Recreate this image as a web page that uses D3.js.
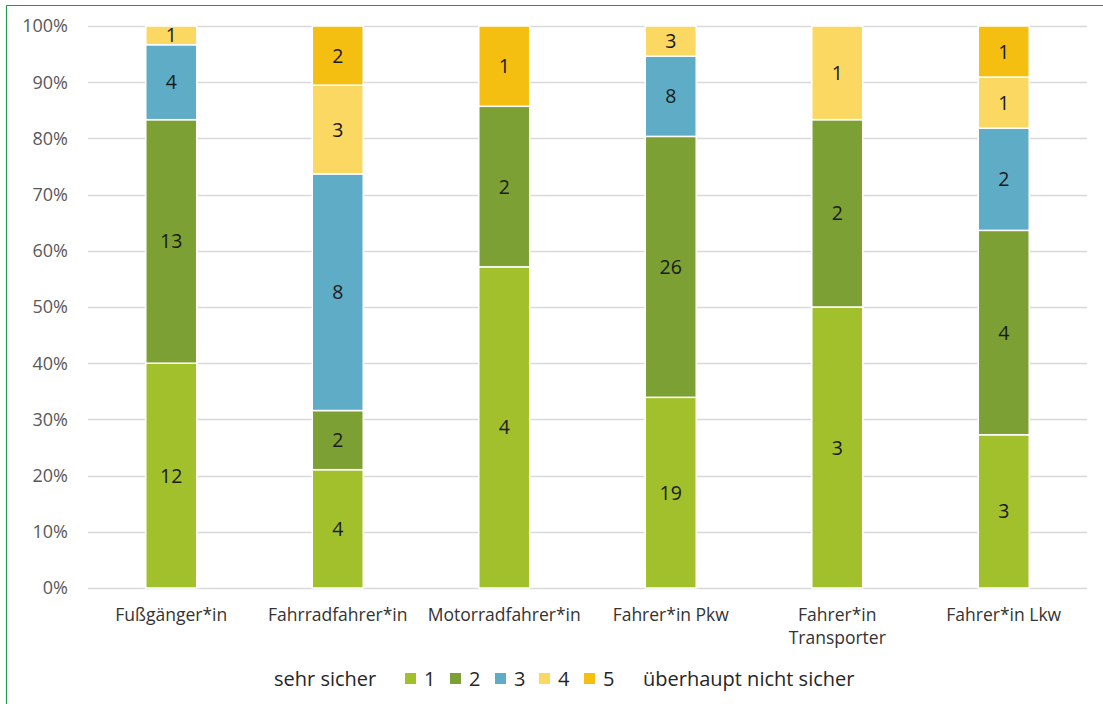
<!DOCTYPE html>
<html><head><meta charset="utf-8">
<script src="https://cdn.jsdelivr.net/npm/d3@7"></script>
<style>body{margin:0;background:#fff}svg{display:block}text{font-family:"Open Sans",sans-serif}</style>
</head><body>
<svg id="c" width="1103" height="704"></svg>
<script>
const categories = ["Fußgänger*in","Fahrradfahrer*in","Motorradfahrer*in","Fahrer*in Pkw","Fahrer*in Transporter","Fahrer*in Lkw"];
const seriesNames = ["1","2","3","4","5"];
const s1 = [12,4,4,19,3,3];
const s2 = [13,2,2,26,2,4];
const s3 = [4,8,0,8,0,2];
const s4 = [1,3,0,3,1,1];
const s5 = [0,2,1,0,0,1];
const colors = ["#a2c02c","#7da034","#5eacc5","#fad862","#f5bf12"];
const yTicks = [0,0.1,0.2,0.3,0.4,0.5,0.6,0.7,0.8,0.9,1];
const legendLeft = "sehr sicher", legendRight = "überhaupt nicht sicher";

const series = [s1,s2,s3,s4,s5];
const svg = d3.select("#c");
// border
svg.append("line").attr("x1",6.5).attr("x2",1103).attr("y1",5.5).attr("y2",5.5).attr("stroke","#1e9a48").attr("stroke-width",1.2);
svg.append("line").attr("x1",6.5).attr("x2",6.5).attr("y1",5.5).attr("y2",704).attr("stroke","#1e9a48").attr("stroke-width",1.2);

const x = d3.scaleBand().domain(categories).range([88,1087]).paddingInner(0.694).paddingOuter(0.347);
const y = d3.scaleLinear().domain([0,1]).range([588,26]);

const g = svg.append("g");
g.selectAll(".grid").data(yTicks).join("line").attr("x1",88).attr("x2",1087)
 .attr("y1",d=>Math.round(y(d))+0.5).attr("y2",d=>Math.round(y(d))+0.5).attr("stroke","#d9d9d9").attr("stroke-width",1.3);
g.selectAll(".yt").data(yTicks).join("text").attr("x",68).attr("y",d=>y(d)).attr("dy","0.36em")
 .attr("text-anchor","end").attr("font-size",18).attr("fill","#595959").text(d=>d3.format(".0%")(d));

const rows = categories.map((c,i)=>{const o={cat:c}; seriesNames.forEach((s,j)=>o[s]=series[j][i]); return o;});
const stacked = d3.stack().keys(seriesNames).offset(d3.stackOffsetExpand)(rows);
stacked.forEach((layer,j)=>{
  const lg = g.append("g");
  layer.forEach((d,i)=>{
    const v = series[j][i];
    if(!v) return;
    lg.append("rect").attr("x",x(d.data.cat)).attr("width",x.bandwidth())
      .attr("y",y(d[1])).attr("height",y(d[0])-y(d[1])).attr("fill",colors[j])
      .attr("stroke","#fff").attr("stroke-width",1.5);
    lg.append("text").attr("x",x(d.data.cat)+x.bandwidth()/2).attr("y",(y(d[0])+y(d[1]))/2).attr("dy","0.36em")
      .attr("text-anchor","middle").attr("font-size",19.5).attr("fill","#1a1a1a").text(v);
  });
});
// x labels
categories.forEach(c=>{
  const words = c==="Fahrer*in Transporter" ? ["Fahrer*in","Transporter"] : [c];
  const t = g.append("text").attr("x",x(c)+x.bandwidth()/2).attr("y",621).attr("text-anchor","middle").attr("font-size",17.5).attr("fill","#333333");
  words.forEach((w,k)=>t.append("tspan").attr("x",x(c)+x.bandwidth()/2).attr("dy",k?"1.3em":0).text(w));
});
// legend
const ly = 686;
svg.append("text").attr("x",274).attr("y",ly).attr("font-size",20).attr("fill","#262626").text(legendLeft);
const lx = [405,450,495,539,584];
seriesNames.forEach((s,j)=>{
  svg.append("rect").attr("x",lx[j]).attr("y",673).attr("width",11).attr("height",11).attr("fill",colors[j]);
  svg.append("text").attr("x",lx[j]+19).attr("y",ly).attr("font-size",20).attr("fill","#262626").text(s);
});
svg.append("text").attr("x",643).attr("y",ly).attr("font-size",20).attr("fill","#262626").text(legendRight);
</script>
</body></html>
